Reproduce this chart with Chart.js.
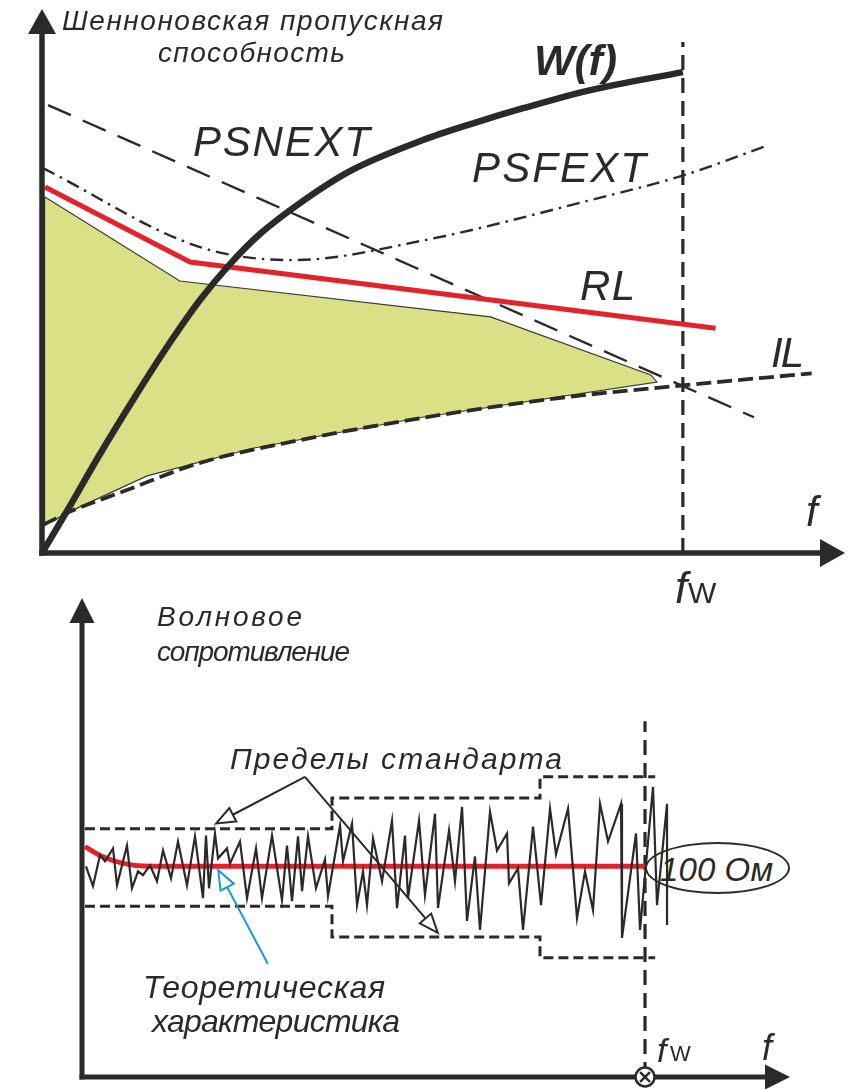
<!DOCTYPE html>
<html><head><meta charset="utf-8">
<script src="https://cdn.jsdelivr.net/npm/chart.js@4.4.1/dist/chart.umd.min.js"></script>
<style>
html,body{margin:0;padding:0;background:#fff;}
#wrap{position:relative;width:848px;height:1089px;overflow:hidden;background:#fff;}
.cbox{position:absolute;left:0;z-index:1;}
.lbl{position:absolute;white-space:nowrap;font-family:"Liberation Sans",Arial,sans-serif;color:#2b2a29;line-height:1;font-style:italic;z-index:3;}
#ell{position:absolute;left:645px;top:842px;width:141px;height:48px;border:2px solid #2b2a29;border-radius:50%;background:#fff;z-index:0;}
</style></head>
<body><div id="wrap">
<div id="ell"></div>
<div class="cbox" style="top:0;width:848px;height:580px"><canvas id="c1" width="848" height="580"></canvas></div>
<div class="cbox" style="top:580px;width:848px;height:509px"><canvas id="c2" width="848" height="509"></canvas></div>
</div>
<script>
// ---------- TOP CHART DATA (x: frequency, fW = 100; y: capacity, arbitrary units) ----------
const topXMax = 125.3, topYMax = 100.2;
const fW = 100;
const wfX = [0, 3.9, 9.05, 14.2, 19.5, 24.65, 29.33, 34.0, 40.25, 48.05, 59.44, 67.4, 75.2, 85.6, 100];
const wfY = [0, 7.73, 18.23, 28.18, 37.94, 46.59, 53.22, 58.75, 64.46, 70.35, 76.06, 79.19, 81.97, 85.27, 88.58];
const psnextX = [0.94, 100, 111.1];
const psnextY = [82.5, 30.75, 25.0];
const psfextX = [0.16, 24.65, 39.2, 59.6, 85.6, 100.2, 112.6];
const psfextY = [70.9, 56.35, 53.95, 57.6, 65.0, 69.6, 74.8];
const rlX = [0.47, 23.1, 105.1];
const rlY = [67.4, 53.6, 41.4];
const ilX = [0.16, 3.9, 13.26, 24.65, 40.25, 59.4, 80.3, 100.2, 120.1];
const ilY = [5.16, 7.37, 11.6, 16.6, 20.8, 24.9, 28.5, 30.9, 33.1];
const areaX = [0.4, 21.5, 70.0, 95.0, 95.95, 59.4, 32.9, 16.4, 5.9, 0.4, 0.4];
const areaY = [65.6, 50.1, 43.5, 32.8, 31.5, 25.0, 19.3, 14.2, 8.5, 5.2, 65.6];
const fwTopY = [0, 94.1];

// ---------- BOTTOM CHART DATA (x: frequency, fW = 100; y: impedance, Ohm) ----------
const botXMax = 125.75, botYMax = 227.4;
const noiseX = [0.71,1.95,3.20,4.09,5.51,6.22,7.99,8.88,9.95,10.83,
  12.08,13.32,14.39,15.81,17.05,18.65,20.07,21.49,22.02,22.56,
  23.62,24.16,25.75,26.29,28.06,29.31,30.91,31.97,33.75,35.52,
  36.41,37.30,38.37,39.08,40.14,41.56,43.16,43.69,45.83,46.36,
  47.96,48.85,49.91,50.62,51.69,53.29,55.06,55.95,57.37,57.90,
  59.86,60.92,62.70,63.23,65.19,66.25,67.50,68.38,69.80,70.69,
  72.47,73.71,75.49,75.84,77.44,78.33,80.11,81.53,83.13,84.19,
  86.32,87.92,89.34,90.76,92.01,93.43,95.74,95.91,98.40,99.11,
  101.42,102.13,103.91,103.91];
const noiseY = [100,90.6,105.4,102.4,108.5,91.0,109.9,89.6,97.6,95.8,
  100.5,92.9,107.5,94.3,111.8,91.0,114.2,84.9,114.6,89.6,
  115.6,103.8,108.5,101.4,111.8,84.9,108.5,84.9,114.6,84.0,
  109.9,83.5,114.2,88.2,114.2,89.6,103.3,85.8,119.3,102.4,
  120.3,81.6,97.6,81.6,113.2,92.9,121.7,80.2,114.6,84.9,
  121.7,86.3,125.0,80.2,117.0,92.9,128.3,74.1,104.7,69.8,
  125.9,107.5,115.6,92.0,99,69.8,118.9,81.6,127.4,105.7,
  127.4,75.5,97.6,79.2,129.7,111.8,129.7,66.0,115.6,69.8,
  137.7,81.6,129.7,72.2];
const theoX = [0.53, 3.2, 7.3, 11.7, 100];
const theoY = [109.4, 105.2, 101.4, 100, 100];
const limX = [0.53, 44.4, 81.35, 101.8];
const upperLimY = [117.9, 132.5, 142.5, 142.5];
const lowerLimY = [81.1, 66.5, 56.6, 56.6];
const fwBotY = [0, 168.9];
const noteFrom = [39.6, 142.5];
const noteTo1 = [23.8, 120.3];
const noteTo2 = [63.2, 68.4];
const theoArrowFrom = [33.0, 53.8];
const theoArrowTo = [24.2, 98.1];

// ---------- STYLE ----------
const BLACK = '#2b2a29', RED = '#e42229', GREEN = '#d9e086', BLUE = '#1b95d4';
const pts = (xs, ys) => xs.map((x, i) => ({x, y: ys[i]}));
const base = {pointRadius: 0, clip: false, fill: false, tension: 0};

const axesArrows = {
  id: 'axesArrows',
  draw(chart, o) {
    const {ctx, chartArea: a} = chart;
    ctx.save();
    ctx.strokeStyle = BLACK; ctx.fillStyle = BLACK; ctx.lineWidth = o.lw; ctx.lineCap = 'butt';
    ctx.beginPath(); ctx.moveTo(a.left, a.bottom + o.lw / 2); ctx.lineTo(a.left, a.top + o.hl - 2); ctx.stroke();
    ctx.beginPath(); ctx.moveTo(a.left, a.top); ctx.lineTo(a.left - o.hw, a.top + o.hl); ctx.lineTo(a.left + o.hw, a.top + o.hl); ctx.closePath(); ctx.fill();
    ctx.beginPath(); ctx.moveTo(a.left - o.lw / 2, a.bottom); ctx.lineTo(a.right - o.hl + 2, a.bottom); ctx.stroke();
    ctx.beginPath(); ctx.moveTo(a.right, a.bottom); ctx.lineTo(a.right - o.hl, a.bottom - o.hw); ctx.lineTo(a.right - o.hl, a.bottom + o.hw); ctx.closePath(); ctx.fill();
    ctx.restore();
  },
  beforeDatasetsDraw(chart, args, o) { if (!o.after) this.draw(chart, o); },
  afterDatasetsDraw(chart, args, o) { if (o.after) this.draw(chart, o); }
};

const calloutArrows = {
  id: 'calloutArrows',
  afterDatasetsDraw(chart, args, o) {
    const {ctx, scales: {x, y}} = chart;
    ctx.save();
    o.items.forEach(it => {
      const x0 = x.getPixelForValue(it.from[0]), y0 = y.getPixelForValue(it.from[1]);
      const x1 = x.getPixelForValue(it.to[0]), y1 = y.getPixelForValue(it.to[1]);
      const dx = x1 - x0, dy = y1 - y0, L = Math.hypot(dx, dy), ux = dx / L, uy = dy / L;
      const bx = x1 - ux * it.hl, by = y1 - uy * it.hl;
      ctx.strokeStyle = it.color; ctx.lineWidth = it.lw; ctx.lineJoin = 'miter';
      ctx.beginPath(); ctx.moveTo(x0, y0); ctx.lineTo(bx, by); ctx.stroke();
      ctx.beginPath(); ctx.moveTo(x1, y1);
      ctx.lineTo(bx - uy * it.hw, by + ux * it.hw);
      ctx.lineTo(bx + uy * it.hw, by - ux * it.hw);
      ctx.closePath(); ctx.fillStyle = '#fff'; ctx.fill(); ctx.stroke();
    });
    ctx.restore();
  }
};

const commonOpts = (xmax, ymax, pad, axesOpt, extraPlugins) => ({
  responsive: false, animation: false, events: [],
  layout: {padding: pad},
  scales: {
    x: {type: 'linear', min: 0, max: xmax, display: false},
    y: {type: 'linear', min: 0, max: ymax, display: false}
  },
  plugins: Object.assign({legend: {display: false}, tooltip: {enabled: false}, axesArrows: axesOpt}, extraPlugins || {})
});

// ---------- TOP CHART ----------
new Chart(document.getElementById('c1'), {
  type: 'line',
  data: {datasets: [
    {...base, data: pts(wfX, wfY), borderColor: BLACK, borderWidth: 6.5, cubicInterpolationMode: 'monotone', borderCapStyle: 'butt', order: 1},
    {...base, data: pts(ilX, ilY), borderColor: BLACK, borderWidth: 3.8, borderDash: [15, 6], cubicInterpolationMode: 'monotone', order: 2},
    {...base, data: pts(rlX, rlY), borderColor: RED, borderWidth: 5, borderCapStyle: 'butt', order: 3},
    {...base, data: pts(psnextX, psnextY), borderColor: BLACK, borderWidth: 2.4, borderDash: [25, 13], order: 4},
    {...base, data: pts(psfextX, psfextY), borderColor: BLACK, borderWidth: 2.4, borderDash: [13, 6, 2.5, 6], cubicInterpolationMode: 'monotone', order: 5},
    {...base, data: [{x: fW, y: fwTopY[0]}, {x: fW, y: fwTopY[1]}], borderColor: BLACK, borderWidth: 3.2, borderDash: [15, 8], order: 6},
    {...base, data: pts(areaX, areaY), borderColor: '#3a3a38', borderWidth: 1.2, backgroundColor: GREEN, fill: 'shape', order: 7}
  ]},
  options: commonOpts(topXMax, topYMax, {left: 42, right: 3, top: 9, bottom: 27}, {lw: 5.5, hl: 25, hw: 14, after: true}),
  plugins: [axesArrows]
});

// ---------- BOTTOM CHART ----------
new Chart(document.getElementById('c2'), {
  type: 'line',
  data: {datasets: [
    {...base, data: [{x: fW, y: 0}], pointRadius: 7, pointStyle: 'crossRot', borderColor: BLACK, pointBorderWidth: 2.5, showLine: false, order: 0},
    {...base, data: [{x: fW, y: 0}], pointRadius: 9.5, pointStyle: 'circle', backgroundColor: '#fff', borderColor: BLACK, pointBackgroundColor: '#fff', pointBorderWidth: 2.5, showLine: false, order: 1},
    {...base, data: pts(noiseX, noiseY), borderColor: BLACK, borderWidth: 2.2, borderJoinStyle: 'miter', order: 2},
    {...base, data: pts(theoX, theoY), borderColor: RED, borderWidth: 5, cubicInterpolationMode: 'monotone', borderCapStyle: 'butt', order: 3},
    {...base, data: pts(limX, upperLimY), borderColor: BLACK, borderWidth: 3, borderDash: [10, 5], stepped: 'before', order: 4},
    {...base, data: pts(limX, lowerLimY), borderColor: BLACK, borderWidth: 3, borderDash: [10, 5], stepped: 'before', order: 5},
    {...base, data: [{x: fW, y: fwBotY[0]}, {x: fW, y: fwBotY[1]}], borderColor: BLACK, borderWidth: 3.2, borderDash: [15, 8], order: 6}
  ]},
  options: commonOpts(botXMax, botYMax, {left: 82, right: 58, top: 18, bottom: 9}, {lw: 5, hl: 25, hw: 12.5, after: false}, {
    calloutArrows: {items: [
      {from: noteFrom, to: noteTo1, color: BLACK, lw: 2, hl: 19, hw: 7.5},
      {from: noteFrom, to: noteTo2, color: BLACK, lw: 2, hl: 19, hw: 7.5},
      {from: theoArrowFrom, to: theoArrowTo, color: BLUE, lw: 2, hl: 19, hw: 7.5}
    ]}
  }),
  plugins: [axesArrows, calloutArrows]
});

// ---------- TEXT LABELS ----------
const mctx = document.createElement('canvas').getContext('2d');
function label(text, left, baseline, size, width, opt) {
  opt = opt || {};
  const d = document.createElement('div');
  d.className = 'lbl';
  d.textContent = text;
  const st = opt.upright ? 'normal' : 'italic', wt = opt.bold ? 'bold' : 'normal';
  d.style.fontSize = size + 'px'; d.style.fontStyle = st; d.style.fontWeight = wt;
  if (opt.z !== undefined) d.style.zIndex = opt.z;
  if (width) {
    mctx.font = `${st} ${wt} ${size}px "Liberation Sans"`;
    const w = mctx.measureText(text).width;
    d.style.letterSpacing = ((width - w) / Math.max(1, text.length - 1)) + 'px';
  }
  d.style.left = left + 'px';
  d.style.top = (baseline - 0.8465 * size) + 'px';
  document.getElementById('wrap').appendChild(d);
}
label('Шенноновская пропускная', 62, 31, 28, 381);
label('способность', 158, 63, 28, 187);
label('W(f)', 534, 75, 43, 83, {bold: true});
label('PSNEXT', 193, 157, 42, 177);
label('PSFEXT', 472, 183, 42, 174);
label('RL', 580, 301, 42, 55);
label('IL', 771, 368, 42, 33);
label('f', 806, 527, 42);
label('f', 675, 603, 44);
label('W', 688, 603, 30, 31, {upright: true});

label('Волновое', 157, 627, 28, 145);
label('сопротивление', 157, 662, 28, 193);
label('Пределы стандарта', 230, 769, 30, 332);
label('Теоретическая', 143, 998, 32, 242);
label('характеристика', 152, 1032, 32, 248);
label('100 Ом', 660, 881, 33, 113, {z: 0});
label('f', 657, 1062, 34);
label('W', 670, 1062, 22, 18, {upright: true});
label('f', 762, 1060, 36);
</script>
</body></html>
